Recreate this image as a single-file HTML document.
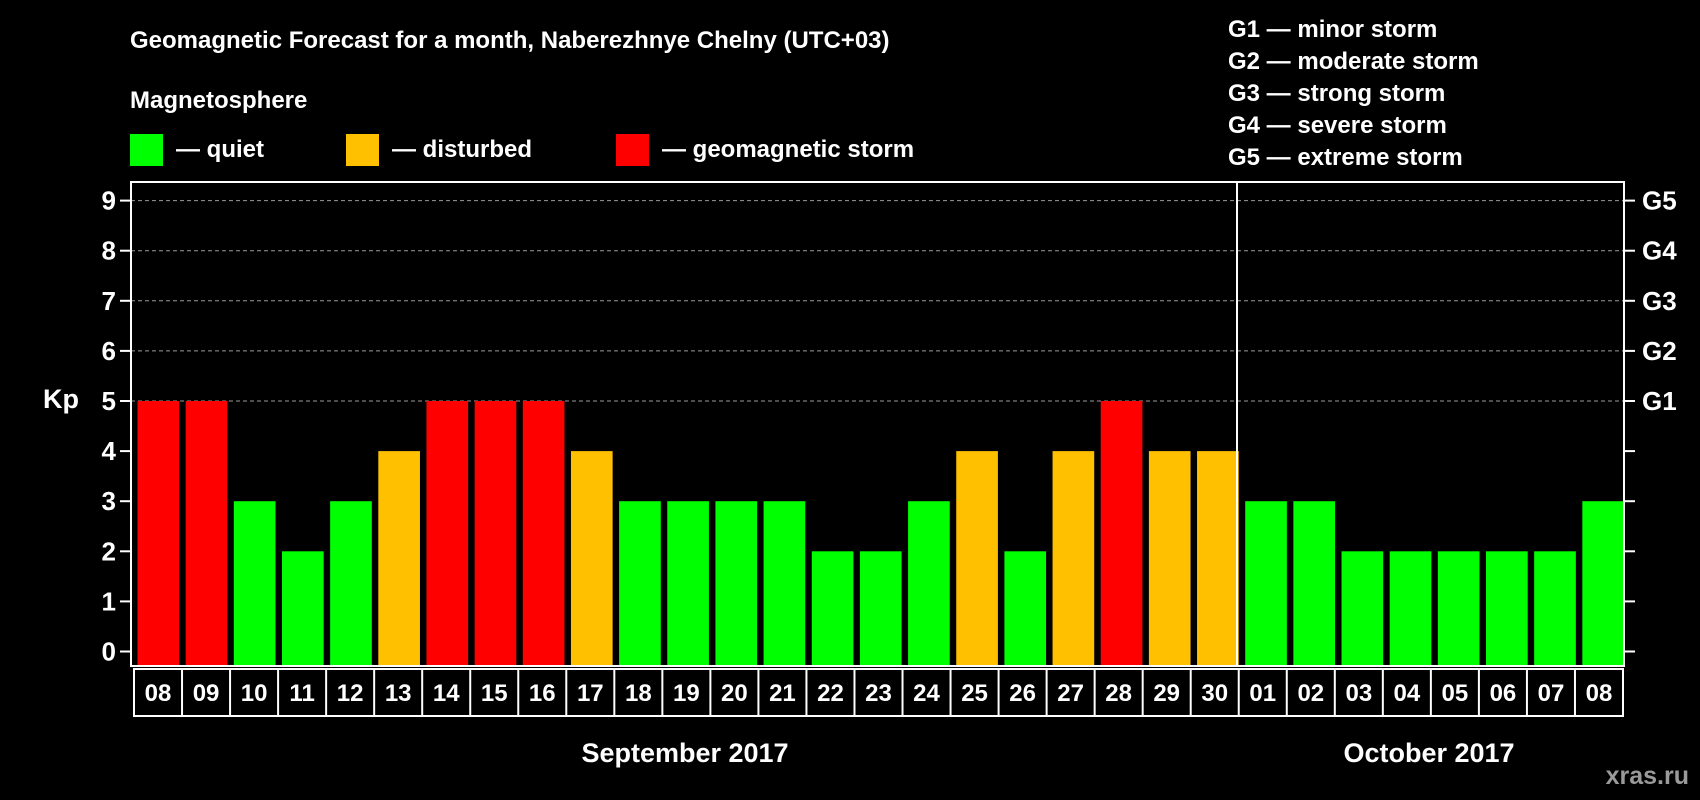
<!DOCTYPE html>
<html><head><meta charset="utf-8"><style>
html,body{margin:0;padding:0;background:#000;}
svg{display:block;}
text{font-family:"Liberation Sans",Arial,sans-serif;font-weight:bold;fill:#fff;}
</style></head><body>
<svg id="chart" width="1700" height="800" viewBox="0 0 1700 800">
<rect x="0" y="0" width="1700" height="800" fill="#000"/>
<text x="130" y="48" font-size="24">Geomagnetic Forecast for a month, Naberezhnye Chelny (UTC+03)</text>
<text x="130" y="108" font-size="24">Magnetosphere</text>
<g>
<rect x="130" y="134" width="33" height="32" fill="#00ff00"/>
<text x="176" y="157" font-size="24">— quiet</text>
<rect x="346" y="134" width="33" height="32" fill="#ffc000"/>
<text x="392" y="157" font-size="24">— disturbed</text>
<rect x="616" y="134" width="33" height="32" fill="#ff0000"/>
<text x="662" y="157" font-size="24">— geomagnetic storm</text>
</g>
<g font-size="24">
<text x="1228" y="37">G1 — minor storm</text>
<text x="1228" y="69">G2 — moderate storm</text>
<text x="1228" y="101">G3 — strong storm</text>
<text x="1228" y="133">G4 — severe storm</text>
<text x="1228" y="165">G5 — extreme storm</text>
</g>
<text x="43" y="408" font-size="27">Kp</text>
<g id="grid"></g>
<g id="bars"></g>
<rect x="131" y="182" width="1493" height="484" fill="none" stroke="#fff" stroke-width="2"/>
<line x1="1237" y1="182" x2="1237" y2="666" stroke="#fff" stroke-width="2"/>
<g id="axes"></g>
<g id="xlabels"></g>
<text x="685" y="762" font-size="27" text-anchor="middle">September 2017</text>
<text x="1429" y="762" font-size="27" text-anchor="middle">October 2017</text>
<text x="1689" y="784" font-size="25" text-anchor="end" style="fill:#9a9a9a">xras.ru</text>
</svg>
<script>
const days = ["08","09","10","11","12","13","14","15","16","17","18","19","20","21","22","23","24","25","26","27","28","29","30","01","02","03","04","05","06","07","08"];
const kpValues = [5,5,3,2,3,4,5,5,5,4,3,3,3,3,2,2,3,4,2,4,5,4,4,3,3,2,2,2,2,2,3];
const yTicks = [0,1,2,3,4,5,6,7,8,9];
const gLabels = ["G1","G2","G3","G4","G5"];

const NS = "http://www.w3.org/2000/svg";
const plotL = 131, plotR = 1624, y0 = 651.5, unit = 50.1;
const step = (plotR - plotL) / days.length;
function yScale(v){ return y0 - v * unit; }
function xScale(i){ return plotL + i * step; }
function mk(tag, attrs, parent){ const e = document.createElementNS(NS, tag); for (const k in attrs) e.setAttribute(k, attrs[k]); parent.appendChild(e); return e; }
function color(v){ return v >= 5 ? "#ff0000" : (v >= 4 ? "#ffc000" : "#00ff00"); }

const grid = document.getElementById("grid");
yTicks.forEach(t => {
  if (t >= 5) {
    const l = mk("line", {x1: plotL, x2: plotR, y1: yScale(t), y2: yScale(t), stroke: "#9a9a9a", "stroke-width": 1, "stroke-dasharray": "4,3"}, grid);
    
    
  }
});

const bars = document.getElementById("bars");
kpValues.forEach((v, i) => {
  const r = mk("rect", {x: xScale(i) + 6.5, y: yScale(v), width: step - 6.5, height: yScale(0) - yScale(v) + 14, fill: color(v)}, bars);
  
  
});

const axes = document.getElementById("axes");
yTicks.forEach(t => {
  const y = yScale(t);
  const tl = mk("line", {x1: 120, x2: 131, y1: y, y2: y, stroke: "#fff", "stroke-width": 2}, axes);
  
  
  const tx = mk("text", {x: 116, y: y + 9, "font-size": 26, "text-anchor": "end"}, axes);
  tx.textContent = t;
  
  
  const tr = mk("line", {x1: 1624, x2: 1635, y1: y, y2: y, stroke: "#fff", "stroke-width": 2}, axes);
  
  
  if (t >= 5) {
    const g = mk("text", {x: 1642, y: y + 9, "font-size": 26}, axes);
    g.textContent = gLabels[t - 5];
    
    
  }
});

const xl = document.getElementById("xlabels");
const boxL = 134, boxT = 669, boxB = 716, boxStep = (1623 - 134) / days.length;
const frame = mk("rect", {x: boxL, y: boxT, width: 1623 - boxL, height: boxB - boxT, fill: "none", stroke: "#fff", "stroke-width": 2}, xl);


days.forEach((d, i) => {
  if (i > 0) {
    const l = mk("line", {x1: boxL + i * boxStep, x2: boxL + i * boxStep, y1: boxT, y2: boxB, stroke: "#fff", "stroke-width": 2}, xl);
    
    
  }
  const t = mk("text", {x: boxL + (i + 0.5) * boxStep, y: 701, "font-size": 24, "text-anchor": "middle"}, xl);
  t.textContent = d;
  
  
});
</script>
</body></html>
